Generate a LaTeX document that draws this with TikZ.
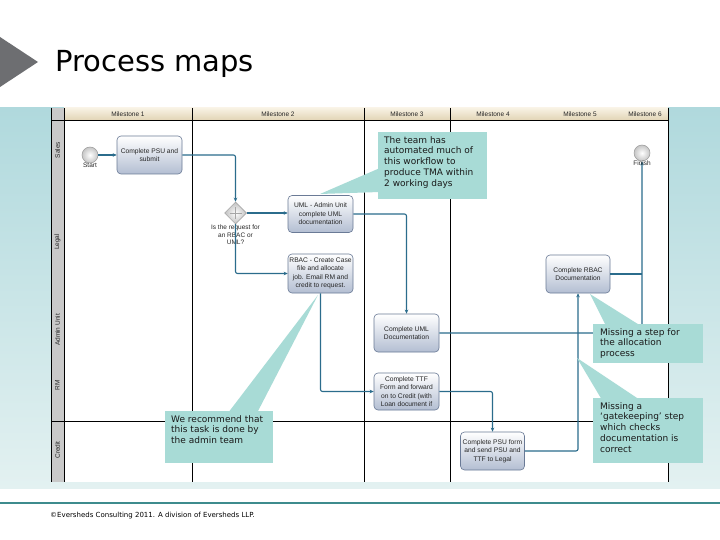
\documentclass[tikz,border=0pt]{standalone}
\usepackage{fontspec}
\setmainfont{DejaVu Sans}
\newfontfamily\arialf{Liberation Sans}
\usetikzlibrary{arrows.meta,shapes.geometric}
\definecolor{conncol}{HTML}{2B6C8C}
\definecolor{callc}{HTML}{A8DBD6}
\definecolor{boxb}{HTML}{6A7A96}
\definecolor{boxbot}{HTML}{B3BED2}
\definecolor{footline}{HTML}{3D8B8D}
\definecolor{bgtop}{HTML}{B0D9DD}
\definecolor{bgbot}{HTML}{E3F1F1}
\definecolor{hdrtop}{HTML}{F8F2E4}
\definecolor{hdrbot}{HTML}{E2D5B6}
\definecolor{lanegray}{HTML}{C9C9C9}
\definecolor{tri}{HTML}{6D6E71}
\tikzset{
  task/.style={draw=boxb, line width=0.6pt, rounded corners=4pt, top color=white, bottom color=boxbot,
    minimum width=65pt, minimum height=38pt, inner sep=1pt, align=center,
    font=\arialf\fontsize{6.7}{8.5}\selectfont, text=black!85},
  evt/.style={circle, draw=gray!80, line width=0.5pt, inner sep=0pt, minimum size=16pt,
    inner color=white, outer color=gray!45},
  gate/.style={diamond, draw=gray!80, line width=0.5pt, inner sep=0pt, minimum width=22pt,
    minimum height=22pt, inner color=white, outer color=gray!50},
  small/.style={font=\arialf\fontsize{6.5}{7.5}\selectfont, text=black!85, inner sep=0pt},
  flow/.style={draw=conncol, line width=1.1pt, rounded corners=2pt, -{Stealth[length=4pt,width=3.5pt]}},
  flowthick/.style={flow, line width=2.2pt},
  plainflow/.style={draw=conncol, line width=1.1pt},
  callbox/.style={fill=callc, inner sep=0pt},
  calltext/.style={anchor=north west, align=left, inner sep=0pt, font=\fontsize{9}{10.8}\selectfont, text=black!90},
  gridline/.style={draw=black, line width=0.6pt},
}
\begin{document}
\begin{tikzpicture}[x=1pt,y=-1pt]
\useasboundingbox (0,0) rectangle (720,540);
\fill[white] (0,0) rectangle (720,540);
% title
\fill[tri] (0,37) -- (38,62) -- (0,87) -- cycle;
\node[anchor=base west, font=\fontsize{29}{30}\selectfont, inner sep=0pt] (title) at (55,72) {Process maps};
% background
\shade[top color=bgtop, bottom color=bgbot] (0,108) rectangle (720,488);
\fill[white] (51,108) rectangle (668,482);
% header
\shade[top color=hdrtop, bottom color=hdrbot] (64,108) rectangle (668,120);
\fill[lanegray] (51,108) rectangle (64,482);
\draw[gridline] (51,108) -- (51,482);
\draw[gridline] (64,108) -- (64,482);
\draw[gridline] (668,108) -- (668,482);
\draw[gridline] (51,120) -- (668,120);
\draw[gridline] (192,108) -- (192,482);
\draw[gridline] (364,108) -- (364,482);
\draw[gridline] (450,108) -- (450,482);
\draw[gridline] (51,421) -- (668,421);
\node[small] (m1) at (128,114) {Milestone 1};
\node[small] (m2) at (278,114) {Milestone 2};
\node[small] (m3) at (407,114) {Milestone 3};
\node[small] (m4) at (493,114) {Milestone 4};
\node[small] (m5) at (580,114) {Milestone 5};
\node[small] (m6) at (645,114) {Milestone 6};
% lane labels
\node[small, rotate=90] (lsales) at (57.5,150) {Sales};
\node[small, rotate=90] (llegal) at (57.5,242) {Legal};
\node[small, rotate=90] (ladmin) at (57.5,330) {Admin Unit};
\node[small, rotate=90] (lrm) at (57.5,385) {RM};
\node[small, rotate=90] (lcredit) at (57.5,450) {Credit};
% nodes
\node[evt] (start) at (90,155) {};
\node[small, anchor=north] (startl) at (90,163) {Start};
\node[task] (psu) at (149.5,155) {Complete PSU and\\submit};
\node[gate] (gw) at (235.5,213) {};
\draw[gray!70, line width=0.6pt] ([xshift=-6pt]gw.center) -- ([xshift=6pt]gw.center);
\draw[gray!70, line width=0.6pt] ([yshift=-6pt]gw.center) -- ([yshift=6pt]gw.center);
\node[small, align=center, anchor=north] (gwl) at (235.5,225) {Is the request for\\an RBAC or\\UML?};
\node[task, minimum height=37pt] (uml) at (320.5,214) {UML - Admin Unit\\complete UML\\documentation};
\node[task, minimum height=39pt] (rbac) at (320.5,273.5) {RBAC - Create Case\\file and allocate\\job. Email RM and\\credit to request.};
\node[task] (cuml) at (406.5,333) {Complete UML\\Documentation};
\node[task, minimum height=37pt] (ttf) at (406.5,391.5) {Complete TTF\\Form and forward\\on to Credit (with\\Loan document if};
\node[task, minimum width=64pt] (psuf) at (492.5,451) {Complete PSU form\\and send PSU and\\TTF to Legal};
\node[task, minimum width=64pt] (crbac) at (578,274) {Complete RBAC\\Documentation};
\node[evt] (fin) at (642,153) {};
% connectors
\draw[flowthick] (start.east) -- (start.east -| psu.west);
\draw[flow] (psu.east) -| (gw.north);
\draw[flowthick] (gw.east) -- (gw.east -| uml.west);
\draw[flow] (gw.south) |- (rbac.west);
\draw[flow] (uml.east) -| (cuml.north);
\draw[flow] (rbac.south) |- (ttf.west);
\draw[flow] (ttf.east) -| (psuf.north);
\draw[flow] (psuf.east) -| (crbac.south);
\draw[flow] (cuml.east) -| (fin.south);
\draw[plainflow] (crbac.east) -- (crbac.east -| fin.south);
\node[small, anchor=north] (finl) at (642,161) {Finish};
% callouts
\fill[callc] (320,194) -- (380,168) -- (380,192) -- cycle;
\node[callbox, minimum width=109pt, minimum height=67pt, anchor=north west] (c1) at (378,132) {};
\node[calltext] (c1t) at (384,136) {The team has\\automated much of\\this workflow to\\produce TMA within\\2 working days};
\fill[callc] (318,295) -- (228,413) -- (257,413) -- cycle;
\node[callbox, minimum width=108pt, minimum height=52pt, anchor=north west] (c2) at (165,411) {};
\node[calltext] (c2t) at (171,415) {We recommend that\\this task is done by\\the admin team};
\fill[callc] (590,294) -- (606,326) -- (641,326) -- cycle;
\node[callbox, minimum width=110pt, minimum height=39pt, anchor=north west] (c3) at (593,324) {};
\node[calltext] (c3t) at (600,328) {Missing a step for\\the allocation\\process};
\fill[callc] (577,358) -- (602,400) -- (640,400) -- cycle;
\node[callbox, minimum width=110pt, minimum height=65pt, anchor=north west] (c4) at (593,398) {};
\node[calltext] (c4t) at (600,402) {Missing a\\‘gatekeeping’ step\\which checks\\documentation is\\correct};
% footer
\draw[footline, line width=2.5pt] (0,503) -- (720,503);
\node[anchor=west, inner sep=0pt, font=\fontsize{7}{8}\selectfont] (foot) at (50,516) {©Eversheds Consulting 2011. A division of Eversheds LLP.};
\end{tikzpicture}
\end{document}
